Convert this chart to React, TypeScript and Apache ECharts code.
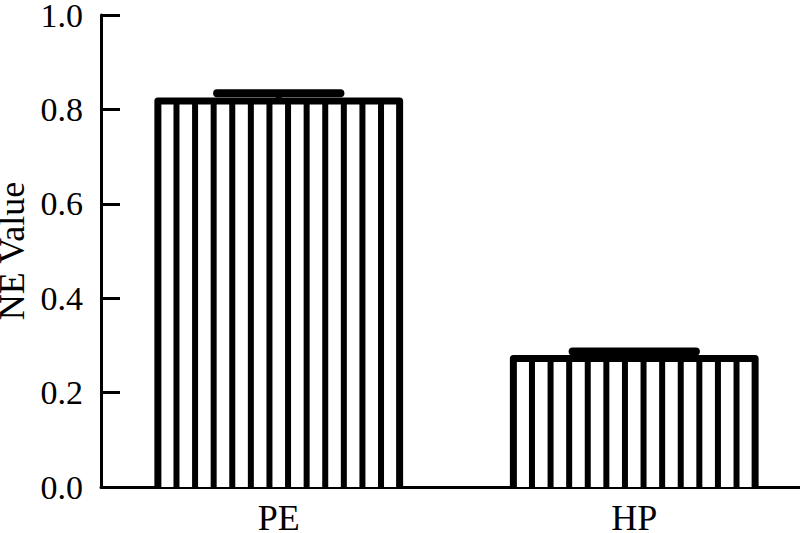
import React, { useEffect, useRef } from "react";
import * as echarts from "echarts";

const categories = ["PE", "HP"];
const neValues = [0.818, 0.272];
const neErrors = [0.016, 0.015];
const yTicks = { min: 0, max: 1, interval: 0.2 };

const FONT = "Liberation Serif";
const BAR_FRAC = 0.68;
const CAP_FRAC = 0.51;
const STRIPES = 13;

export default function App() {
  const ref = useRef<HTMLDivElement>(null);
  useEffect(() => {
    if (!ref.current) return;
    const chart = echarts.init(ref.current, null, { renderer: "svg" });
    const barItem = (params: any, api: any) => {
      const i = api.value(0);
      const v = api.value(1);
      const base = api.coord([i, 0]);
      const top = api.coord([i, v]);
      const w = api.size([1, 0])[0] * BAR_FRAC;
      const x0 = base[0] - w / 2;
      const x1 = base[0] + w / 2;
      const children: any[] = [
        {
          type: "polyline",
          shape: { points: [[x0, base[1]], [x0, top[1]], [x1, top[1]], [x1, base[1]]] },
          style: { stroke: "#000", lineWidth: 7, fill: "#fff", lineJoin: "round" },
        },
      ];
      for (let k = 1; k < STRIPES; k++) {
        const x = x0 + (w * k) / STRIPES;
        children.push({
          type: "line",
          shape: { x1: x, y1: base[1], x2: x, y2: top[1] },
          style: { stroke: "#000", lineWidth: 6 },
        });
      }
      return { type: "group", children };
    };
    const errItem = (params: any, api: any) => {
      const i = api.value(0);
      const v = api.value(1);
      const e = api.value(2);
      const p0 = api.coord([i, v]);
      const p1 = api.coord([i, v + e]);
      const w = api.size([1, 0])[0] * BAR_FRAC * CAP_FRAC;
      return {
        type: "group",
        children: [
          {
            type: "line",
            shape: { x1: p0[0], y1: p0[1], x2: p1[0], y2: p1[1] },
            style: { stroke: "#000", lineWidth: 6 },
          },
          {
            type: "line",
            shape: { x1: p1[0] - w / 2, y1: p1[1], x2: p1[0] + w / 2, y2: p1[1] },
            style: { stroke: "#000", lineWidth: 8, lineCap: "round" },
          },
        ],
      };
    };
    chart.setOption({
      animation: false,
      backgroundColor: "#fff",
      grid: { left: 101, right: -12, top: 15, bottom: 46, containLabel: false, outerBoundsMode: "none" },
      xAxis: {
        type: "category",
        data: categories,
        boundaryGap: true,
        axisLine: { lineStyle: { color: "#000", width: 3 } },
        axisTick: { alignWithLabel: true, inside: true, length: 15, lineStyle: { color: "#000", width: 3 } },
        axisLabel: { color: "#000", fontSize: 36, lineHeight: 28, fontFamily: FONT, margin: 17 },
        splitLine: { show: false },
      },
      yAxis: {
        type: "value",
        min: yTicks.min,
        max: yTicks.max,
        interval: yTicks.interval,
        name: "NE Value",
        nameLocation: "middle",
        nameGap: 71,
        nameRotate: 90,
        nameTextStyle: { color: "#000", fontSize: 36, lineHeight: 30, fontFamily: FONT },
        axisLine: { show: true, lineStyle: { color: "#000", width: 3 } },
        axisTick: { show: true, inside: true, length: 19, lineStyle: { color: "#000", width: 3 } },
        axisLabel: {
          color: "#000",
          fontSize: 34,
          lineHeight: 26,
          fontFamily: FONT,
          margin: 18,
          formatter: (v: number) => v.toFixed(1),
        },
        splitLine: { show: false },
      },
      series: [
        {
          type: "custom",
          renderItem: barItem,
          data: categories.map((c, i) => [i, neValues[i]]),
          encode: { x: 0, y: 1 },
          z: 2,
        },
        {
          type: "custom",
          renderItem: errItem,
          data: categories.map((c, i) => [i, neValues[i], neErrors[i]]),
          encode: { x: 0, y: 1 },
          z: 3,
        },
      ],
    });
    return () => chart.dispose();
  }, []);
  return (
    <div
      ref={ref}
      style={{ position: "absolute", left: 0, top: 0, width: 800, height: 533, background: "#fff" }}
    />
  );
}
